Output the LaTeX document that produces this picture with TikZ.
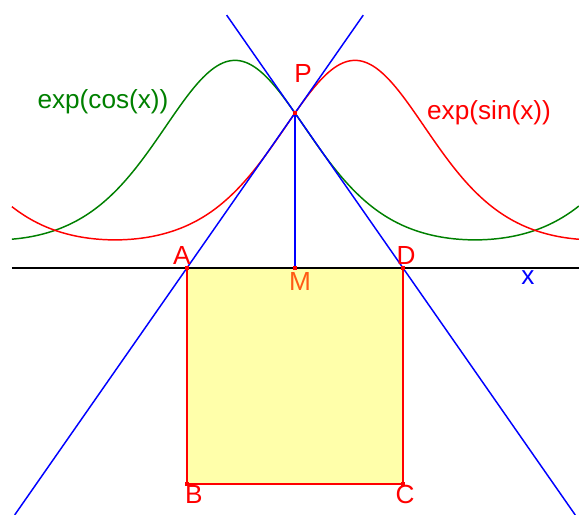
\documentclass[tikz,border=0pt]{standalone}
\usepackage{fontspec}
\setmainfont{Liberation Sans}
\definecolor{mcol}{RGB}{255,90,20}
\definecolor{sqfill}{RGB}{255,255,170}
\begin{document}
\begin{tikzpicture}[x=2cm,y=2cm,
  lbl/.style={font=\fontsize{19.5}{22}\selectfont, inner sep=0pt},
  blueline/.style={draw=blue, line width=1.1pt},
  pt/.style={fill=red, minimum size=3pt, inner sep=0pt, rectangle}]
\useasboundingbox (-3.076,-3.233) rectangle (4.503,3.508);
% points
\coordinate (P) at (0.7854,2.0281);
\coordinate (A) at (-0.6288,0);
\coordinate (D) at (2.1996,0);
\coordinate (M) at (0.7854,0);
\coordinate (B) at (-0.6288,-2.8284);
\coordinate (C) at (2.1996,-2.8284);
\coordinate (L1a) at (-2.884,-3.233);
\coordinate (L1b) at (1.679,3.31);
\coordinate (L2a) at (-0.109,3.31);
\coordinate (L2b) at (4.454,-3.233);
\coordinate (X0) at (-2.92,0);
\coordinate (X1) at (4.503,0);
% square
\fill[sqfill] (A) rectangle (C);
\draw[red, line width=1.1pt] (A) -- (B) -- (C) -- (D);
% curves
\draw[green!50!black, line width=1.1pt] plot[domain=-2.92:4.503, samples=200, smooth] (\x, {exp(cos(\x r))});
\draw[red, line width=1.1pt] plot[domain=-2.92:4.503, samples=200, smooth] (\x, {exp(sin(\x r))});
% axis
\draw[black, line width=1.1pt] (X0) -- (X1);
% lines
\draw[blueline] (L1a) -- (L1b);
\draw[blueline] (L2a) -- (L2b);
\draw[blueline] (P) -- (M);
% dots
\foreach \p in {A,B,C,D,M,P} \node[pt] at (\p) {};
% labels
\node[lbl, text=red] (lA) at (-0.694,0.17) {A};
\node[lbl, text=red] (lD) at (2.238,0.17) {D};
\node[lbl, text=mcol] (lM) at (0.851,-0.183) {M};
\node[lbl, text=red] (lP) at (0.89,2.55) {P};
\node[lbl, text=red] (lB) at (-0.537,-2.97) {B};
\node[lbl, text=red] (lC) at (2.225,-2.97) {C};
\node[lbl, text=blue] (lx) at (3.835,-0.131) {x};
\node[lbl, text=green!50!black] (lcos) at (-1.728,2.173) {exp(cos(x))};
\node[lbl, text=red] (lsin) at (3.325,2.029) {exp(sin(x))};
\end{tikzpicture}
\end{document}
